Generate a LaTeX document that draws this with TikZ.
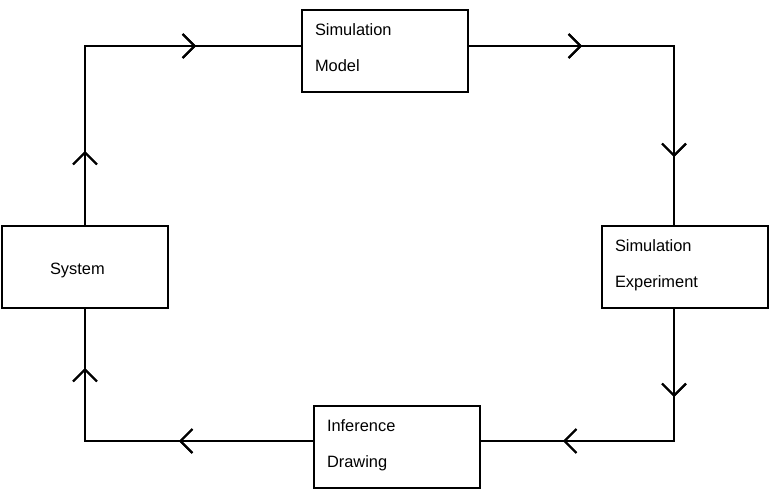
\documentclass[tikz,border=0pt]{standalone}
\usepackage{fontspec}
\setmainfont{Liberation Sans}
\usetikzlibrary{positioning,arrows.meta,decorations.markings}

\begin{document}
\begin{tikzpicture}[
    x=1pt,y=-1pt,
    every node/.style={font=\fontsize{16.4}{36}\selectfont},
    stage/.style={draw,line width=2pt,minimum width=166pt,minimum height=82pt,
        inner xsep=13pt,text width=140pt,align=left,text depth=43pt},
    flow/.style={line width=2pt},
    chev/.style={decoration={markings,mark=at position #1 with
        {\arrow{Straight Barb[length=12pt,width=24pt,line width=2pt]}}},postaction={decorate}},
]
\useasboundingbox (0,0) rectangle (776,490);

% Stages of the simulation cycle
\node[stage,inner xsep=48pt,text width=70pt,text height=18pt,text depth=3.5pt] (sys) at (85,267) {System};
\node[stage] (model) at (385,51)  {Simulation\\Model};
\node[stage] (exper) at (685,267) {Simulation\\Experiment};
\node[stage] (infer) at (397,447) {Inference\\Drawing};

% Connectors, chevrons placed along each leg
\draw[flow,chev=74pt,chev=290pt]  (sys.north) |- ([yshift=5pt]model.west);
\draw[flow,chev=113pt,chev=316pt] ([yshift=5pt]model.east) -| ([xshift=-11pt]exper.north);
\draw[flow,chev=88pt,chev=243pt]  ([xshift=-11pt]exper.south) |- ([yshift=6pt]infer.east);
\draw[flow,chev=134pt,chev=301pt] ([yshift=6pt]infer.west) -| (sys.south);
\end{tikzpicture}
\end{document}
